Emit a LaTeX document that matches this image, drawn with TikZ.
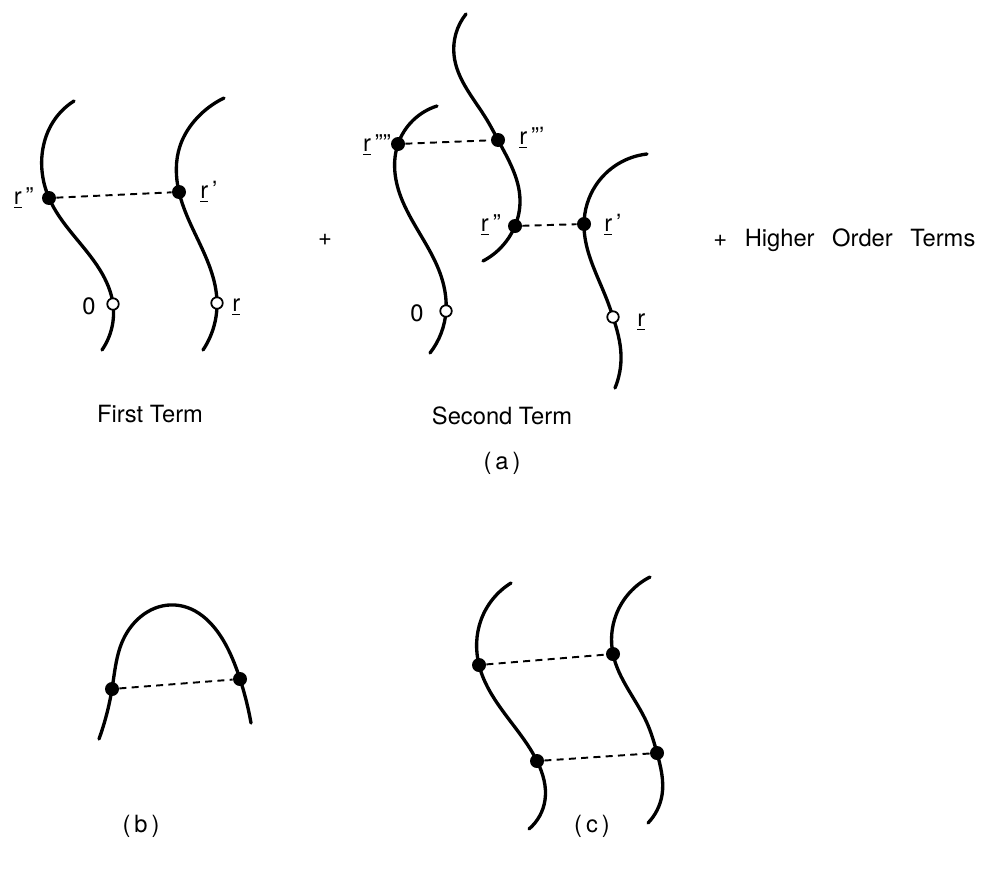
\documentclass[tikz,border=0pt]{standalone}
\usepackage{fontspec}
\setmainfont{TeX Gyre Heros}
\usetikzlibrary{backgrounds, hobby}
\newcommand{\rv}{\underline{r}}

\begin{document}
\begin{tikzpicture}[x=0.02cm, y=-0.02cm,
  fdot/.style={circle, fill=black, inner sep=0pt, minimum size=0.28cm},
  odot/.style={circle, draw=black, fill=white, line width=1pt, inner sep=0pt, minimum size=0.23cm},
  chain/.style={line width=1.9pt, line cap=round, use Hobby shortcut},
  link/.style={line width=1.1pt, dash pattern=on 4pt off 3pt},
  lbl/.style={font=\fontsize{13.5}{16}\selectfont, inner sep=0pt},
]
  \useasboundingbox (0,0) rectangle (996,889);

  % (a) first term
  \node[fdot] (a1) at (49,198) {};
  \node[fdot] (a2) at (179,192) {};
  \node[odot] (a0) at (113,304) {};
  \node[odot] (ar) at (217,303) {};
  \draw[link] (a1) -- (a2);
  \node[lbl, anchor=east] (la1) at (34,198) {\rv\,''};
  \node[lbl, anchor=west] (la2) at (200,192) {\rv\,'};
  \node[lbl, anchor=east] (la0) at (96,306) {0};
  \node[lbl, anchor=west] (lar) at (232,307) {\rv};

  % (a) second term
  \node[fdot] (b4) at (398,144) {};
  \node[fdot] (b3) at (498,140) {};
  \node[fdot] (b2) at (515,226) {};
  \node[fdot] (b1) at (584,224) {};
  \node[odot] (b0) at (446,311) {};
  \node[odot] (br) at (613,317) {};
  \draw[link] (b4) -- (b3);
  \draw[link] (b2) -- (b1);
  \node[lbl, anchor=east] (lb4) at (391,145) {\rv\,''''};
  \node[lbl, anchor=west] (lb3) at (519,138) {\rv\,'''};
  \node[lbl, anchor=east] (lb2) at (501,225) {\rv\,''};
  \node[lbl, anchor=west] (lb1) at (604,225) {\rv\,'};
  \node[lbl, anchor=east] (lb0) at (424,313) {0};
  \node[lbl, anchor=west] (lbr) at (637,322) {\rv};

  \node[lbl] (plus) at (325,240) {+};
  \node[lbl, anchor=west] (hot) at (713,240) {+\hspace{10pt}Higher\hspace{10pt}Order\hspace{10pt}Terms};
  \node[lbl] (first) at (150,414) {First Term};
  \node[lbl] (second) at (502,416) {Second Term};
  \node[lbl] (capa) at (502,463) {(\,a\,)};

  % (b)
  \node[fdot] (c1) at (112,689) {};
  \node[fdot] (c2) at (240,679) {};
  \draw[link] (c1) -- (c2);
  \node[lbl] (capb) at (141,826) {(\,b\,)};

  % (c)
  \node[fdot] (e1) at (479,665) {};
  \node[fdot] (e2) at (613,654) {};
  \node[fdot] (e3) at (537,761) {};
  \node[fdot] (e4) at (657,753) {};
  \draw[link] (e1) -- (e2);
  \draw[link] (e3) -- (e4);
  \node[lbl] (capc) at (592,826) {(\,c\,)};

  \begin{scope}[on background layer]
    \draw[chain] (74,101) .. (53,122) .. (43,148) .. (a1.center) .. (100,270) .. (a0.center) .. (102,350);
    \draw[chain] (224,98) .. (197,118) .. (180,146) .. (a2.center) .. (213,277) .. (ar.center) .. (203,350);
    \draw[chain] (437,106) .. (b4.center) .. (396,180) .. (440,273) .. (b0.center) .. (430,353);
    \draw[chain] (466,14) .. (454,55) .. (487,120) .. (b3.center) .. (520,200) .. (b2.center) .. (483,261);
    \draw[chain] (647,154) .. (596,185) .. (b1.center) .. (607,300) .. (br.center) .. (621,355) .. (615,388);
    \draw[chain] (99,739) .. (c1.center) .. (123,640) .. (175,605) .. (227,647) .. (c2.center) .. (251,723);
    \draw[chain] (511,583) .. (481,620) .. (e1.center) .. (517,730) .. (e3.center) .. (545,800) .. (529,829);
    \draw[chain] (650,577) .. (616,615) .. (e2.center) .. (647,723) .. (e4.center) .. (662,795) .. (648,823);
  \end{scope}
\end{tikzpicture}
\end{document}
